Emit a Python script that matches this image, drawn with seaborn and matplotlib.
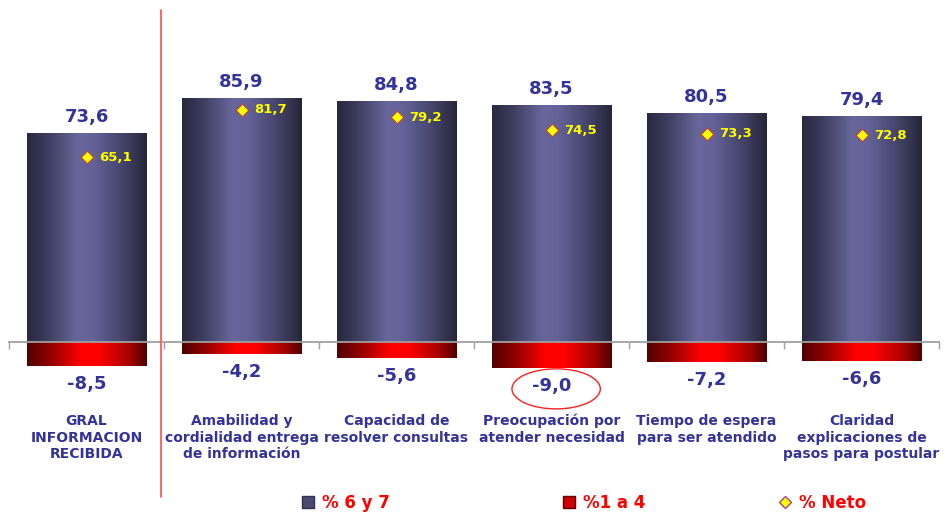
import numpy as np
import pandas as pd
import matplotlib
matplotlib.use("Agg")
import matplotlib.pyplot as plt
import seaborn as sns
from matplotlib.colors import LinearSegmentedColormap
from matplotlib.patches import Ellipse, Patch
from matplotlib.lines import Line2D

# --------------------------
# Data
# --------------------------
categorias = [
    "GRAL\nINFORMACION\nRECIBIDA",
    "Amabilidad y\ncordialidad entrega\nde información",
    "Capacidad de\nresolver consultas",
    "Preocupación por\natender necesidad",
    "Tiempo de espera\npara ser atendido",
    "Claridad\nexplicaciones de\npasos para postular",
]
pct_6y7 = [73.6, 85.9, 84.8, 83.5, 80.5, 79.4]
pct_1a4 = [-8.5, -4.2, -5.6, -9.0, -7.2, -6.6]
pct_neto = [65.1, 81.7, 79.2, 74.5, 73.3, 72.8]

df = pd.DataFrame({"cat": categorias, "alto": pct_6y7, "bajo": pct_1a4, "neto": pct_neto})
df["pos"] = np.arange(len(df))

NAVY = "#333399"

def fmt(v):
    return f"{v:.1f}".replace(".", ",")

# --------------------------
# Figure
# --------------------------
sns.set_style("white")
plt.rcParams['font.family'] = ['DejaVu Sans']

fig = plt.figure(figsize=(9.46, 5.15), dpi=100)
ax = fig.add_axes([9 / 946, 0, 930 / 946, 1])

sns.barplot(data=df, x="cat", y="alto", color="#55557f", width=0.774, saturation=1, ax=ax)
sns.barplot(data=df, x="cat", y="bajo", color="#ff0000", width=0.774, saturation=1, ax=ax)

# cylinder-like horizontal gradients
cmap_blue = LinearSegmentedColormap.from_list(
    "blu", [(0, "#282840"), (0.15, "#3a3a5a"), (0.42, "#67679b"),
            (0.55, "#63639a"), (0.8, "#44446a"), (1, "#262638")])
cmap_red = LinearSegmentedColormap.from_list(
    "rd", [(0, "#500000"), (0.2, "#940000"), (0.45, "#ff0000"),
           (0.6, "#ff0000"), (0.85, "#a80000"), (1, "#500000")])
grad = np.linspace(0, 1, 256).reshape(1, -1)
n = len(df)
for i, p in enumerate(ax.patches[: 2 * n]):
    cm = cmap_blue if i < n else cmap_red
    x0, y0 = p.get_x(), p.get_y()
    w, h = p.get_width(), p.get_height()
    im = ax.imshow(grad, cmap=cm, extent=(x0, x0 + w, min(y0, y0 + h), max(y0, y0 + h)),
                   aspect="auto", zorder=1, interpolation="bicubic")
    im.set_clip_path(p)
    p.set_facecolor("none")
    p.set_edgecolor("none")

# neto markers
sns.scatterplot(data=df, x="pos", y="neto", marker="D", s=42, color="#ffff00",
                edgecolor="#c04040", linewidth=0.8, ax=ax, zorder=5, legend=False)

ax.set_xlim(-0.5, n - 0.5)
ax.set_ylim(-60.9, 120.4)

# labels
for i, r in df.iterrows():
    ax.annotate(fmt(r["alto"]), (i, r["alto"]), xytext=(0, 8), textcoords="offset points",
                ha="center", va="baseline", fontsize=13, fontweight="bold", color=NAVY)
    ax.annotate(fmt(r["bajo"]), (i, r["bajo"]), xytext=(0, -6.5), textcoords="offset points",
                ha="center", va="top", fontsize=13, fontweight="bold", color=NAVY)
    ax.annotate(fmt(r["neto"]), (i, r["neto"]), xytext=(9, 0), textcoords="offset points",
                ha="left", va="center", fontsize=9.5, fontweight="bold", color="#ffff00")
    ax.text(i, -25.3, r["cat"], ha="center", va="top", fontsize=10, fontweight="bold",
            color=NAVY, linespacing=1.25)

# highlight lowest
ax.add_patch(Ellipse((3.03, -16.5), 0.57, 14.1, fill=False, edgecolor="#ff2020", lw=1, zorder=6))

# separator
ax.plot([0.48, 0.48], [-54.6, 116.9], color="#ff5a5a", lw=1.3, zorder=6)

# axis at zero with boundary ticks
for s in ["top", "right", "left"]:
    ax.spines[s].set_visible(False)
ax.spines["bottom"].set_position(("data", 0))
ax.spines["bottom"].set_color("#a0a0a0")
ax.spines["bottom"].set_linewidth(1.3)
ax.spines["bottom"].set_zorder(3)
ax.set_xticks(np.arange(n + 1) - 0.5)
ax.set_xticklabels([])
ax.tick_params(axis="x", bottom=True, direction="out", length=5, color="#a0a0a0", width=1)
ax.set_yticks([])
ax.set_xlabel("")
ax.set_ylabel("")

# legend
items = [
    (Patch(facecolor="#4a4a72", edgecolor="#30304a"), "% 6 y 7", 0.366),
    (Patch(facecolor="#d00000", edgecolor="#600000"), "%1 a 4", 0.639),
    (Line2D([], [], marker="D", ls="", markersize=6, markerfacecolor="#ffff00",
            markeredgecolor="#b04080"), "% Neto", 0.870),
]
for h, lab, xc in items:
    fig.legend(handles=[h], labels=[lab], loc="center", bbox_to_anchor=(xc, 1 - 503 / 515),
               frameon=False, handlelength=0.7, handleheight=0.7, handletextpad=0.5,
               prop={"size": 12, "weight": "bold"}, labelcolor="#ff0000")

fig.savefig("out.png", dpi=100)
